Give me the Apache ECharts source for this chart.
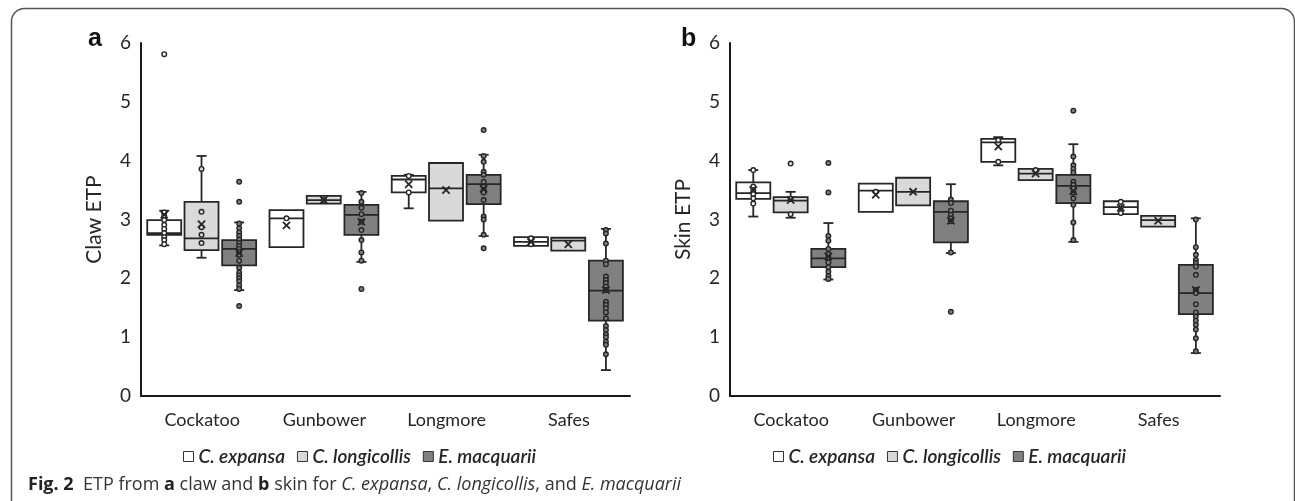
<!DOCTYPE html>
<html>
<head>
<meta charset="utf-8">
<script src="https://cdn.jsdelivr.net/npm/echarts@6/dist/echarts.min.js"></script>
<style>
html,body{margin:0;padding:0;background:#fff;}
#chart{width:1295px;height:501px;}
</style>
</head>
<body>
<div id="chart"></div>
<script>
// ---------- DATA ----------
const categories = ['Cockatoo', 'Gunbower', 'Longmore', 'Safes'];
const speciesNames = ['C. expansa', 'C. longicollis', 'E. macquarii'];
const yMin = 0, yMax = 6, yInterval = 1;

// stats per category: [min, Q1, median, Q3, max]
const clawExpansaStats = [[2.56, 2.74, 2.77, 2.99, 3.15], [2.53, 2.53, 3.02, 3.16, 3.16], [3.19, 3.46, 3.68, 3.74, 3.76], [2.55, 2.55, 2.62, 2.70, 2.70]];
const clawExpansaMean = [3.08, 2.90, 3.60, 2.62];
const clawExpansaPoints = [[5.81, 3.12, 3.06, 2.99, 2.91, 2.84, 2.77, 2.70, 2.65, 2.58], [3.02], [3.74, 3.46], [2.68, 2.58]];

const clawLongicollisStats = [[2.35, 2.48, 2.68, 3.30, 4.08], [3.27, 3.27, 3.33, 3.40, 3.40], [2.98, 2.98, 3.53, 3.96, 3.96], [2.47, 2.47, 2.64, 2.69, 2.69]];
const clawLongicollisMean = [2.92, 3.33, 3.50, 2.58];
const clawLongicollisPoints = [[3.86, 3.13, 2.87, 2.74, 2.60], [3.33], [], []];

const clawMacquariiStats = [[1.80, 2.22, 2.50, 2.65, 2.95], [2.28, 2.74, 3.08, 3.25, 3.47], [2.72, 3.26, 3.60, 3.76, 4.10], [0.44, 1.28, 1.79, 2.30, 2.84]];
const clawMacquariiMean = [2.43, 2.96, 3.52, 1.80];
const clawMacquariiPoints = [
  [3.64, 3.30, 2.93, 2.85, 2.78, 2.72, 2.66, 2.60, 2.55, 2.50, 2.45, 2.40, 2.30, 2.18, 2.10, 2.05, 2.00, 1.95, 1.88, 1.82, 1.53],
  [3.45, 3.30, 3.20, 3.09, 2.96, 2.82, 2.65, 2.44, 2.30, 1.82],
  [4.52, 4.08, 3.98, 3.81, 3.76, 3.64, 3.56, 3.50, 3.46, 3.33, 3.05, 3.00, 2.74, 2.51],
  [2.82, 2.76, 2.59, 2.30, 2.24, 2.03, 1.97, 1.92, 1.86, 1.80, 1.60, 1.55, 1.49, 1.42, 1.32, 1.19, 1.12, 1.05, 1.00, 0.92, 0.87, 0.71]
];

const skinExpansaStats = [[3.05, 3.35, 3.45, 3.63, 3.84], [3.13, 3.13, 3.49, 3.61, 3.61], [3.92, 3.98, 4.31, 4.37, 4.40], [3.09, 3.09, 3.21, 3.31, 3.31]];
const skinExpansaMean = [3.50, 3.42, 4.24, 3.20];
const skinExpansaPoints = [[3.84, 3.56, 3.50, 3.43, 3.36, 3.27], [3.47], [4.35, 3.98], [3.30, 3.21, 3.11]];

const skinLongicollisStats = [[3.03, 3.12, 3.32, 3.38, 3.47], [3.24, 3.24, 3.47, 3.71, 3.71], [3.67, 3.67, 3.78, 3.86, 3.86], [2.88, 2.88, 2.99, 3.06, 3.06]];
const skinLongicollisMean = [3.33, 3.47, 3.78, 2.98];
const skinLongicollisPoints = [[3.95, 3.35, 3.09], [], [3.84], []];

const skinMacquariiStats = [[1.98, 2.19, 2.34, 2.50, 2.94], [2.43, 2.61, 3.13, 3.31, 3.60], [2.62, 3.28, 3.57, 3.76, 4.28], [0.73, 1.39, 1.75, 2.23, 3.02]];
const skinMacquariiMean = [2.37, 2.98, 3.48, 1.80];
const skinMacquariiPoints = [
  [3.96, 3.46, 2.72, 2.64, 2.50, 2.41, 2.35, 2.27, 2.19, 2.11, 2.04, 1.99],
  [3.34, 3.28, 3.15, 3.08, 3.02, 2.97, 2.44, 1.43],
  [4.85, 4.07, 3.92, 3.86, 3.80, 3.64, 3.59, 3.53, 3.46, 3.36, 3.25, 2.95, 2.65],
  [3.00, 2.53, 2.40, 2.31, 2.26, 2.20, 2.06, 1.80, 1.75, 1.56, 1.42, 1.35, 1.28, 1.21, 1.13, 0.98, 0.76]
];

// ---------- STYLE ----------
const FILLS = ['#ffffff', '#d9d9d9', '#808080'];
const STROKE = '#262626';
const OFFSETS = [-0.31, -0.005, 0.303]; // fraction of category band
const BOX_W = 0.278;
const FONT = 'Lato';

function boxRender(k) {
  return function (params, api) {
    const c = api.value(0);
    const band = api.size([1, 0])[0];
    const cx = api.coord([c, 0])[0] + OFFSETS[k] * band;
    const hw = BOX_W * band / 2;
    const yv = i => api.coord([c, api.value(i)])[1];
    const yLo = yv(1), yQ1 = yv(2), yMed = yv(3), yQ3 = yv(4), yHi = yv(5);
    const ls = { stroke: STROKE, lineWidth: 1.8 };
    const ch = [];
    const cap = 5;
    if (yHi < yQ3 - 0.5) {
      ch.push({ type: 'line', shape: { x1: cx, y1: yQ3, x2: cx, y2: yHi }, style: ls });
      ch.push({ type: 'line', shape: { x1: cx - cap, y1: yHi, x2: cx + cap, y2: yHi }, style: ls });
    }
    if (yLo > yQ1 + 0.5) {
      ch.push({ type: 'line', shape: { x1: cx, y1: yQ1, x2: cx, y2: yLo }, style: ls });
      ch.push({ type: 'line', shape: { x1: cx - cap, y1: yLo, x2: cx + cap, y2: yLo }, style: ls });
    }
    ch.push({ type: 'rect', shape: { x: cx - hw, y: yQ3, width: 2 * hw, height: yQ1 - yQ3 }, style: { fill: FILLS[k], stroke: STROKE, lineWidth: 1.8 } });
    ch.push({ type: 'line', shape: { x1: cx - hw, y1: yMed, x2: cx + hw, y2: yMed }, style: ls });
    return { type: 'group', children: ch };
  };
}
function pointRender(k) {
  return function (params, api) {
    const c = api.value(0);
    const band = api.size([1, 0])[0];
    const p = api.coord([c, api.value(1)]);
    return { type: 'circle', shape: { cx: p[0] + OFFSETS[k] * band, cy: p[1], r: 2.3 }, style: { fill: FILLS[k], stroke: STROKE, lineWidth: 1.4 } };
  };
}
function meanRender(k) {
  return function (params, api) {
    const c = api.value(0);
    const band = api.size([1, 0])[0];
    const p = api.coord([c, api.value(1)]);
    const x = p[0] + OFFSETS[k] * band, y = p[1], s = 3.6;
    const ls = { stroke: STROKE, lineWidth: 1.8 };
    return { type: 'group', children: [
      { type: 'line', shape: { x1: x - s, y1: y - s, x2: x + s, y2: y + s }, style: ls },
      { type: 'line', shape: { x1: x + s, y1: y - s, x2: x - s, y2: y + s }, style: ls }
    ] };
  };
}

const panels = [
  { stats: [clawExpansaStats, clawLongicollisStats, clawMacquariiStats], means: [clawExpansaMean, clawLongicollisMean, clawMacquariiMean], points: [clawExpansaPoints, clawLongicollisPoints, clawMacquariiPoints] },
  { stats: [skinExpansaStats, skinLongicollisStats, skinMacquariiStats], means: [skinExpansaMean, skinLongicollisMean, skinMacquariiMean], points: [skinExpansaPoints, skinLongicollisPoints, skinMacquariiPoints] }
];

const series = [];
panels.forEach((pan, pi) => {
  for (let k = 0; k < 3; k++) {
    series.push({
      type: 'custom', name: speciesNames[k], xAxisIndex: pi, yAxisIndex: pi,
      itemStyle: { color: FILLS[k], borderColor: STROKE },
      renderItem: boxRender(k), encode: { x: 0, y: [1, 2, 3, 4, 5] },
      data: pan.stats[k].map((s, i) => [i].concat(s)), z: 2
    });
  }
  for (let k = 0; k < 3; k++) {
    const d = [];
    pan.points[k].forEach((arr, i) => arr.forEach(v => d.push([i, v])));
    series.push({
      type: 'custom', name: speciesNames[k], xAxisIndex: pi, yAxisIndex: pi,
      itemStyle: { color: FILLS[k] },
      renderItem: pointRender(k), encode: { x: 0, y: 1 }, data: d, z: 3
    });
  }
  for (let k = 0; k < 3; k++) {
    series.push({
      type: 'custom', name: speciesNames[k], xAxisIndex: pi, yAxisIndex: pi,
      itemStyle: { color: FILLS[k] },
      renderItem: meanRender(k), encode: { x: 0, y: 1 },
      data: pan.means[k].map((v, i) => [i, v]), z: 4
    });
  }
});

const axisLineStyle = { show: true, lineStyle: { color: '#1a1a1a', width: 2 } };
const yNames = ['Claw ETP', 'Skin ETP'];
const grids = [
  { left: 141, top: 43, width: 489, height: 353 },
  { left: 730, top: 43, width: 490, height: 353 }
];
const legendLeft = [183, 773];

const option = {
  animation: false,
  backgroundColor: '#ffffff',
  textStyle: { fontFamily: FONT },
  grid: grids,
  xAxis: grids.map((g, i) => ({
    type: 'category', gridIndex: i, data: categories,
    axisLine: axisLineStyle, axisTick: { show: false }, splitLine: { show: false },
    axisLabel: { fontFamily: FONT, fontSize: 18, color: '#262626', margin: 15 }
  })),
  yAxis: grids.map((g, i) => ({
    type: 'value', gridIndex: i, min: yMin, max: yMax, interval: yInterval,
    axisLine: axisLineStyle, axisTick: { show: false }, splitLine: { show: false },
    axisLabel: { fontFamily: FONT, fontSize: 19, color: '#262626', margin: 10 },
    name: yNames[i], nameLocation: 'middle', nameGap: 36,
    nameTextStyle: { fontFamily: FONT, fontSize: 21, color: '#262626' }
  })),
  legend: legendLeft.map(l => ({
    left: l, top: 447, padding: 0, itemWidth: 10, itemHeight: 10, itemGap: 12,
    icon: 'rect', selectedMode: false,
    data: speciesNames.map((n, k) => ({ name: n, itemStyle: { color: FILLS[k], borderColor: '#333', borderWidth: 1 } })),
    textStyle: { fontFamily: FONT, fontSize: 19, fontStyle: 'italic', fontWeight: 600, color: '#262626' }
  })),
  graphic: [
    { type: 'rect', shape: { x: 11.5, y: 8.5, width: 1283, height: 700, r: 13 }, style: { fill: 'none', stroke: '#555', lineWidth: 1.5 }, z: 10 },
    { type: 'text', left: 88, top: 27, style: { text: 'a', fontFamily: 'Liberation Sans', fontWeight: 'bold', fontSize: 25, fill: '#111' } },
    { type: 'text', left: 681, top: 27, style: { text: 'b', fontFamily: 'Liberation Sans', fontWeight: 'bold', fontSize: 25, fill: '#111' } },
    { type: 'text', left: 28, top: 476, style: {
      text: '{b|Fig. 2}  ETP from {b|a} claw and {b|b} skin for {i|C. expansa}, {i|C. longicollis}, and {i|E. macquarii}',
      fontFamily: 'Open Sans', fontSize: 18, fill: '#333',
      rich: {
        b: { fontFamily: 'Open Sans', fontSize: 18, fontWeight: 'bold', fill: '#222' },
        i: { fontFamily: 'Open Sans', fontSize: 18, fontStyle: 'italic', fill: '#333' }
      }
    } }
  ],
  series: series
};

const chart = echarts.init(document.getElementById('chart'), null, { renderer: 'canvas' });
chart.setOption(option);
</script>
</body>
</html>
